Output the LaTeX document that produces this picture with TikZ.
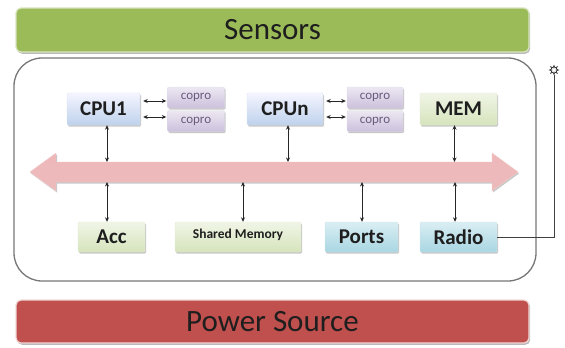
\documentclass[tikz,border=0pt]{standalone}
\usepackage{fontspec}
\setmainfont{Carlito}
\usetikzlibrary{shadows,shapes.geometric,arrows.meta}

\definecolor{barGreen}{HTML}{9BBB59}
\definecolor{barRed}{HTML}{C0504D}
\definecolor{frameGray}{HTML}{777777}
\definecolor{txtDark}{HTML}{1E1E1E}
\definecolor{coproTxt}{HTML}{6B5A7E}

\tikzset{
  softshadow/.style={drop shadow={shadow xshift=1pt, shadow yshift=-1.5pt, opacity=0.3, fill=black!70}},
  unit/.style={rounded corners=1.2pt, inner sep=0pt, text=txtDark,
    font=\bfseries\fontsize{21}{21}\selectfont, softshadow},
  bluebox/.style={unit, top color=blue!4, bottom color={rgb,255:red,190;green,210;blue,236},
    draw={rgb,255:red,215;green,226;blue,240}},
  greenbox/.style={unit, top color={rgb,255:red,240;green,245;blue,230},
    bottom color={rgb,255:red,214;green,228;blue,188}, draw={rgb,255:red,230;green,238;blue,216}},
  cyanbox/.style={unit, top color={rgb,255:red,218;green,238;blue,243},
    bottom color={rgb,255:red,168;green,214;blue,226}, draw={rgb,255:red,210;green,232;blue,238}},
  coprobox/.style={unit, minimum width=57pt, minimum height=21pt, text=coproTxt,
    font=\fontsize{13}{13}\selectfont,
    top color={rgb,255:red,236;green,232;blue,242}, bottom color={rgb,255:red,204;green,192;blue,220},
    draw={rgb,255:red,225;green,219;blue,234}},
  bigbar/.style={rounded corners=5pt, line width=1.2pt,
    font=\fontsize{31}{31}\selectfont, text=txtDark, inner sep=0pt,
    drop shadow={shadow xshift=1.2pt, shadow yshift=-1.8pt, opacity=0.45, fill=black!60}},
  link/.style={draw=black!85, line width=0.8pt, {Stealth[length=4.5pt,width=4pt]}-{Stealth[length=4.5pt,width=4pt]}},
  wire/.style={draw=black!75, line width=0.8pt}
}

\begin{document}
\begin{tikzpicture}[x=1pt,y=-1pt]
\useasboundingbox (0,0) rectangle (565,348);

% outer bars
\node[bigbar, fill=barGreen, draw={rgb,255:red,215;green,228;blue,189}, minimum width=513pt, minimum height=44pt] (sensors) at (272.5,30) {Sensors};
\node[bigbar, fill=barRed, draw={rgb,255:red,240;green,215;blue,214}, minimum width=513pt, minimum height=43pt] (power) at (272.5,321.5) {Power Source};

% device enclosure
\node[draw=frameGray, line width=1.3pt, fill=white, rounded corners=28pt,
      minimum width=522pt, minimum height=223pt, inner sep=0pt] (board) at (275,169.5) {};

% system bus
\path[softshadow, draw={rgb,255:red,242;green,202;blue,202}, line width=0.4pt,
      top color={rgb,255:red,238;green,184;blue,186}, middle color={rgb,255:red,250;green,228;blue,228},
      bottom color={rgb,255:red,237;green,186;blue,188}]
  (30,172) -- (56,153) -- (56,162) -- (492,162) -- (492,153) -- (518,172)
  -- (492,191) -- (492,182) -- (56,182) -- (56,191) -- cycle;

% processing units
\node[bluebox, minimum width=73pt, minimum height=32pt] (cpu1) at (103.5,109) {CPU1};
\node[coprobox] (c1a) at (196,97.5) {copro};
\node[coprobox] (c1b) at (196,121) {copro};
\node[bluebox, minimum width=76pt, minimum height=32pt] (cpun) at (285,109) {CPUn};
\node[coprobox, minimum width=56pt] (cna) at (375,97.5) {copro};
\node[coprobox, minimum width=56pt] (cnb) at (375,121) {copro};
\node[greenbox, minimum width=77pt, minimum height=32pt] (mem) at (458.5,109) {MEM};

% peripherals
\node[greenbox, minimum width=67pt, minimum height=30pt] (acc) at (111.5,237) {Acc};
\node[greenbox, minimum width=126pt, minimum height=30pt, font=\bfseries\fontsize{13.5}{13.5}\selectfont,
      anchor=center, text depth=0pt] (shm) at (238,237) {\raisebox{6pt}{Shared Memory}};
\node[cyanbox, minimum width=73pt, minimum height=30pt] (ports) at (361.5,237) {Ports};
\node[cyanbox, minimum width=77pt, minimum height=30pt] (radio) at (458.5,237) {Radio};

% coprocessor links
\coordinate (p1) at ([yshift=8pt]cpu1.east);
\coordinate (p2) at ([yshift=-8pt]cpu1.east);
\coordinate (p3) at ([yshift=8pt]cpun.east);
\coordinate (p4) at ([yshift=-8pt]cpun.east);
\draw[link, shorten <=3pt, shorten >=1pt] (p1) -- (p1 -| c1a.west);
\draw[link, shorten <=3pt, shorten >=1pt] (p2) -- (p2 -| c1b.west);
\draw[link, shorten <=3pt, shorten >=1pt] (p3) -- (p3 -| cna.west);
\draw[link, shorten <=3pt, shorten >=1pt] (p4) -- (p4 -| cnb.west);

% bus taps
\coordinate (u1) at (107,162);
\coordinate (u2) at (288,162);
\coordinate (u3) at (454.5,162);
\coordinate (d1) at (107,182);
\coordinate (d2) at (243,182);
\coordinate (d3) at (362,182);
\coordinate (d4) at (455,182);
\draw[link] (cpu1.south -| u1) -- (u1);
\draw[link] (cpun.south -| u2) -- (u2);
\draw[link] (mem.south -| u3) -- (u3);
\draw[link] (d1) -- (d1 |- acc.north);
\draw[link] (d2) -- (d2 |- shm.north);
\draw[link] (d3) -- (d3 |- ports.north);
\draw[link] (d4) -- (d4 |- radio.north);

% antenna
\node[star, star points=8, star point ratio=1.9, minimum size=9pt, inner sep=0pt,
      draw=black!80, line width=0.7pt, fill=white] (ant) at (554,70) {};
\coordinate (bend) at (554,237);
\draw[wire] (radio.east) -- (bend) -- (ant.south);
\end{tikzpicture}
\end{document}
